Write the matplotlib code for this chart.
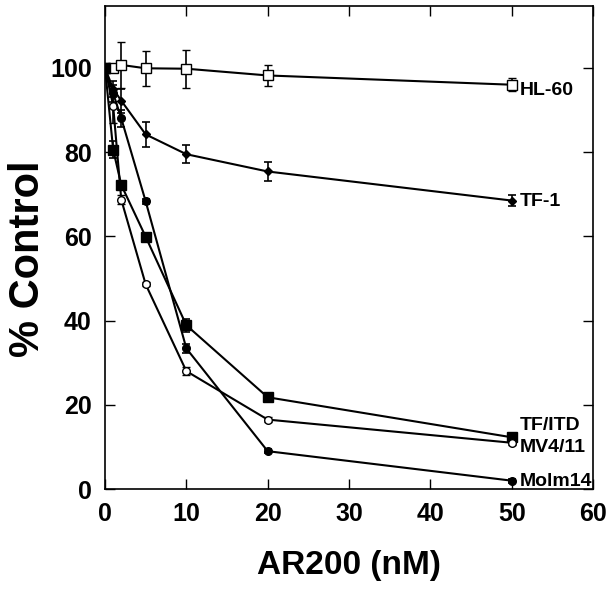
import matplotlib
matplotlib.use("Agg")
from matplotlib import pyplot as plt

plt.rcParams['font.family'] = ['Liberation Sans', 'DejaVu Sans']
plt.rcParams['font.weight'] = 'bold'

dose = [0, 1, 2, 5, 10, 20, 50]

hl60 = [100, 100, 100.7, 99.9, 99.8, 98.2, 96.0]
hl60_err = [0, 0, 5.4, 4.2, 4.5, 2.4, 1.5]

tf1 = [100, 95, 92.2, 84.2, 79.5, 75.4, 68.5]
tf1_err = [0, 2, 2.8, 3.0, 2.2, 2.2, 1.4]

tfitd = [100, 80.6, 72.2, 59.9, 38.9, 21.8, 12.3]
tfitd_err = [0, 2, 1, 0.5, 1.5, 1, 0.5]

mv411 = [100, 91, 68.7, 48.6, 28.0, 16.5, 11.0]
mv411_err = [0, 4, 1, 0.5, 1, 0.5, 0.5]

molm14 = [100, 94, 88.0, 68.3, 33.4, 9.0, 2.0]
molm14_err = [0, 2, 2, 0.5, 1, 0.5, 0.5]

labels = ['HL-60', 'TF-1', 'TF/ITD', 'MV4/11', 'Molm14']
label_y = [94.7, 68.3, 15.0, 9.9, 1.9]

fig = plt.figure(figsize=(6.12, 5.95), dpi=100)
ax = fig.add_axes([0.1716, 0.178, 0.7974, 0.812])

kw = dict(color='black', lw=1.5, capsize=3, elinewidth=1.2, capthick=1.2)
ax.errorbar(dose, hl60, yerr=hl60_err, marker='s', ms=6.5, mfc='white', mec='black', mew=1, **kw)
ax.errorbar(dose, tf1, yerr=tf1_err, marker='D', ms=4.5, mfc='black', mec='black', **kw)
ax.errorbar(dose, tfitd, yerr=tfitd_err, marker='s', ms=6.5, mfc='black', mec='black', **kw)
ax.errorbar(dose, mv411, yerr=mv411_err, marker='o', ms=5.5, mfc='white', mec='black', mew=1, **kw)
ax.errorbar(dose, molm14, yerr=molm14_err, marker='o', ms=5.5, mfc='black', mec='black', **kw)

for lab, yy in zip(labels, label_y):
    ax.text(51.0, yy, lab, fontsize=14, fontweight='bold', va='center', ha='left')

ax.set_xlim(0, 60)
ax.set_ylim(0, 114.7)
ax.set_xticks([0, 10, 20, 30, 40, 50, 60])
ax.set_yticks([0, 20, 40, 60, 80, 100])
ax.tick_params(direction='in', top=True, right=True, length=7, width=1,
               labelsize=18, pad=9.5)
for lbl in ax.get_xticklabels() + ax.get_yticklabels():
    lbl.set_fontweight('bold')
for sp in ax.spines.values():
    sp.set_linewidth(1.2)

ax.set_xlabel('AR200 (nM)', fontsize=24, fontweight='bold', labelpad=17)
fig.text(0.046, 0.566, '% Control', fontsize=30, fontweight='bold',
         rotation=90, ha='center', va='center')

fig.savefig('out.png', dpi=100)
